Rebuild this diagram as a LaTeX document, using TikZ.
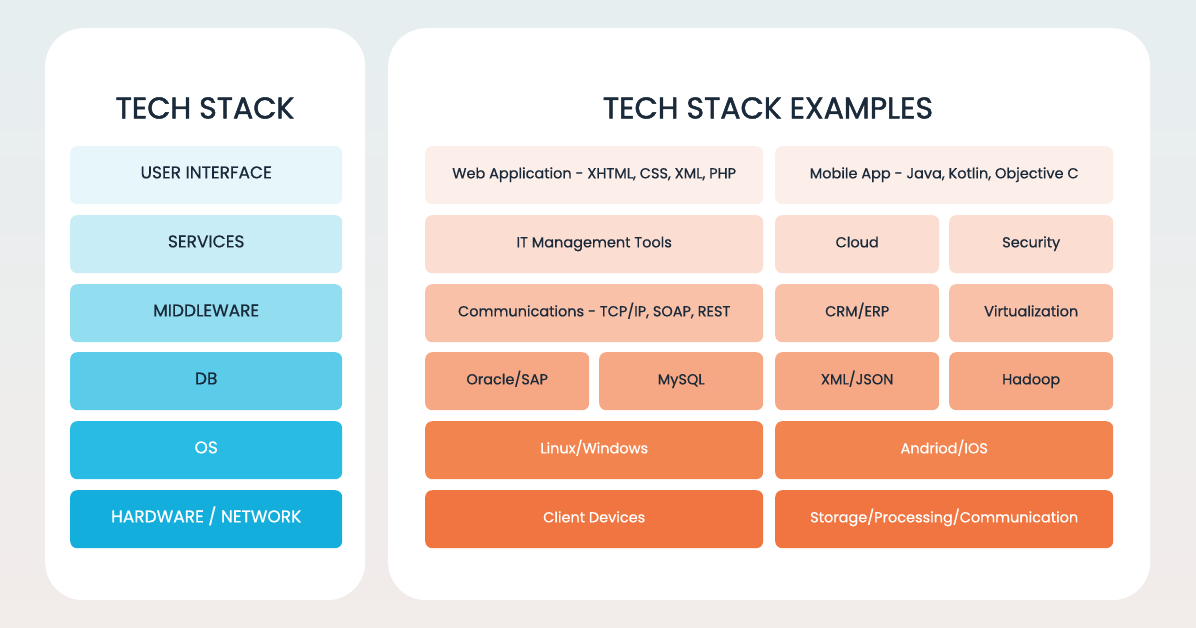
\documentclass[tikz,border=0pt]{standalone}
\usepackage{fontspec}
\setmainfont{Poppins}
\newfontfamily\medf{Poppins}[FakeBold=0.7]
\newfontfamily\titf{Poppins}[FakeBold=1.6]
\begin{document}
\begin{tikzpicture}[x=1pt,y=-1pt,
  panel/.style={fill=white,rounded corners=38pt,draw=none},
  box/.style={rounded corners=7pt,draw=none,anchor=north west,inner sep=0pt,text height=1.45ex,text depth=0.3ex,font=\medf\fontsize{14.5}{18}\selectfont,text=txt},
  lb/.style={box,minimum width=272pt,minimum height=58pt,font=\medf\fontsize{17}{20}\selectfont},
  wide/.style={box,minimum width=338pt,minimum height=58pt},
  half/.style={box,minimum width=164pt,minimum height=58pt},
  title/.style={font=\titf\fontsize{30}{34}\selectfont,text=txt}]
\definecolor{txt}{HTML}{1B2A3A}
\definecolor{bgt}{HTML}{E6EEF0}\definecolor{bgb}{HTML}{F2ECEA}
\definecolor{b1}{HTML}{E6F6FB}\definecolor{b2}{HTML}{C8EDF7}\definecolor{b3}{HTML}{93DDF0}
\definecolor{b4}{HTML}{5ACCEA}\definecolor{b5}{HTML}{28BBE3}\definecolor{b6}{HTML}{14AEDC}
\definecolor{o1}{HTML}{FCEEE8}\definecolor{o2}{HTML}{FBDDD1}\definecolor{o3}{HTML}{F8C1A8}
\definecolor{o4}{HTML}{F5A883}\definecolor{o5}{HTML}{F28450}\definecolor{o6}{HTML}{F07540}
\useasboundingbox (0,0) rectangle (1196,628);
\shade[top color=bgt,bottom color=bgb] (0,0) rectangle (1196,628);
\node[panel,minimum width=320pt,minimum height=572pt,anchor=north west,inner sep=0pt] (lp) at (45,28) {};
\node[panel,minimum width=762pt,minimum height=572pt,anchor=north west,inner sep=0pt] (rp) at (388,28) {};
\node[title] (t1) at (205,108) {TECH STACK};
\node[title] (t2) at (768,108) {TECH STACK EXAMPLES};
% left
\node[lb,fill=b1] (l1) at (70,146) {USER INTERFACE};
\node[lb,fill=b2] (l2) at (70,215) {SERVICES};
\node[lb,fill=b3] (l3) at (70,284) {MIDDLEWARE};
\node[lb,fill=b4] (l4) at (70,352) {DB};
\node[lb,fill=b5,text=white] (l5) at (70,421) {OS};
\node[lb,fill=b6,text=white] (l6) at (70,490) {HARDWARE / NETWORK};
% right
\node[wide,fill=o1] (r1a) at (425,146) {Web Application - XHTML, CSS, XML, PHP};
\node[wide,fill=o1] (r1b) at (775,146) {Mobile App - Java, Kotlin, Objective C};
\node[wide,fill=o2] (r2a) at (425,215) {IT Management Tools};
\node[half,fill=o2] (r2b) at (775,215) {Cloud};
\node[half,fill=o2] (r2c) at (949,215) {Security};
\node[wide,fill=o3] (r3a) at (425,284) {Communications - TCP/IP, SOAP, REST};
\node[half,fill=o3] (r3b) at (775,284) {CRM/ERP};
\node[half,fill=o3] (r3c) at (949,284) {Virtualization};
\node[half,fill=o4] (r4a) at (425,352) {Oracle/SAP};
\node[half,fill=o4] (r4b) at (599,352) {MySQL};
\node[half,fill=o4] (r4c) at (775,352) {XML/JSON};
\node[half,fill=o4] (r4d) at (949,352) {Hadoop};
\node[wide,fill=o5,text=white] (r5a) at (425,421) {Linux/Windows};
\node[wide,fill=o5,text=white] (r5b) at (775,421) {Andriod/IOS};
\node[wide,fill=o6,text=white] (r6a) at (425,490) {Client Devices};
\node[wide,fill=o6,text=white] (r6b) at (775,490) {Storage/Processing/Communication};
\end{tikzpicture}
\end{document}
